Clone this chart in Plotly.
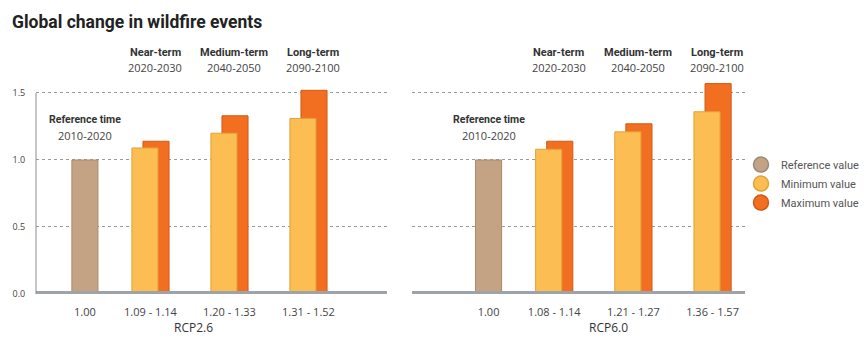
import plotly.graph_objects as go

# ---- data ----
periods = ["Near-term", "Medium-term", "Long-term"]
period_years = ["2020-2030", "2040-2050", "2090-2100"]
reference_label = "Reference time"
reference_years = "2010-2020"
scenarios = ["RCP2.6", "RCP6.0"]
reference_value = [1.00, 1.00]
min_values = {"RCP2.6": [1.09, 1.20, 1.31], "RCP6.0": [1.08, 1.21, 1.36]}
max_values = {"RCP2.6": [1.14, 1.33, 1.52], "RCP6.0": [1.14, 1.27, 1.57]}
y_ticks = [0.0, 0.5, 1.0, 1.5]
legend_names = ["Reference value", "Minimum value", "Maximum value"]

# ---- style / layout helpers ----
C_REF, C_MIN, C_MAX = "#c4a384", "#fcbe52", "#f26f21"
L_REF, L_MIN, L_MAX = "#a88a6c", "#e0a23a", "#cf5a14"
ref_pos = 0.17
group_pos = [1, 2, 3]
BW = 0.33
NARROW = "Roboto, sans-serif"
SANS = "Open Sans, Lato, sans-serif"

fig = go.Figure()

axes = [("x", "y"), ("x2", "y2")]
for i, sc in enumerate(scenarios):
    xa, ya = axes[i]
    fig.add_trace(go.Bar(x=group_pos, y=max_values[sc], width=BW, offset=-0.095,
                         marker=dict(color=C_MAX, line=dict(color=L_MAX, width=1)),
                         xaxis=xa, yaxis=ya, showlegend=False, hoverinfo="y"))
    fig.add_trace(go.Bar(x=group_pos, y=min_values[sc], width=BW, offset=-0.235,
                         marker=dict(color=C_MIN, line=dict(color=L_MIN, width=1)),
                         xaxis=xa, yaxis=ya, showlegend=False, hoverinfo="y"))
    fig.add_trace(go.Bar(x=[ref_pos], y=[reference_value[i]], width=BW, offset=-BW / 2,
                         marker=dict(color=C_REF, line=dict(color=L_REF, width=1)),
                         xaxis=xa, yaxis=ya, showlegend=False, hoverinfo="y"))

for name, c, lc in zip(legend_names, [C_REF, C_MIN, C_MAX], ["#9a8a7a", "#e0a23a", "#cf5a14"]):
    fig.add_trace(go.Scatter(x=[None], y=[None], mode="markers", name=name,
                             marker=dict(symbol="circle", size=15, color=c, line=dict(color=lc, width=1.5)),
                             xaxis="x", yaxis="y"))

def ticktext_for(sc):
    return [f"{reference_value[scenarios.index(sc)]:.2f}"] + [
        f"{a:.2f} - {b:.2f}" for a, b in zip(min_values[sc], max_values[sc])]

ydom = [0.1302, 0.7645]
yr = [0, 1.6]
grid = dict(showgrid=True, gridcolor="#9a9a9a", griddash="dot", gridwidth=1, automargin=False,
            zeroline=False, range=yr, domain=ydom, tickvals=y_ticks)
xtick = dict(ticks="outside", ticklen=8, tickcolor="rgba(0,0,0,0)", automargin=False,
             tickfont=dict(family=SANS, size=11, color="#444"), showgrid=False, zeroline=False,
             tickvals=[ref_pos] + group_pos)

fig.update_layout(
    width=867, height=338, margin=dict(l=0, r=0, t=0, b=0),
    paper_bgcolor="white", plot_bgcolor="white", barmode="overlay",
    xaxis=dict(domain=[36 / 867, 387 / 867], range=[-0.449, 3.994],
               ticktext=ticktext_for("RCP2.6"), **xtick),
    xaxis2=dict(domain=[412 / 867, 745 / 867], range=[-0.797, 3.41],
                ticktext=ticktext_for("RCP6.0"), anchor="y2", **xtick),
    yaxis=dict(**grid, tickformat=".1f", ticks="outside", ticklen=8, tickcolor="rgba(0,0,0,0)",
               tickfont=dict(family=SANS, size=9, color="#444")),
    yaxis2=dict(**grid, showticklabels=False, anchor="x2"),
    showlegend=True,
    legend=dict(x=741 / 867, y=0.556, xanchor="left", yanchor="top",
                font=dict(family=NARROW, size=11, color="#555"),
                bgcolor="rgba(0,0,0,0)", itemwidth=30, tracegroupgap=0),
)

shapes = []
for xa in ["x", "x2"]:
    ya = "y" if xa == "x" else "y2"
    shapes.append(dict(type="line", xref=f"{xa} domain", x0=0, x1=1, yref=ya, y0=0, y1=0,
                       line=dict(color="#9ea3a8", width=6), layer="above"))
shapes.append(dict(type="line", xref="x domain", x0=0, x1=0, yref="y", y0=0, y1=1.5,
                   line=dict(color="#8c8c8c", width=1)))
fig.update_layout(shapes=shapes)

ann = []
ann.append(dict(text="<b>Global change in wildfire events</b>", xref="paper", yref="paper",
                x=10 / 867, y=0.935, xanchor="left", yanchor="middle", showarrow=False,
                font=dict(family=NARROW, size=17.5, color="#222")))
for i, sc in enumerate(scenarios):
    xa = axes[i][0]
    for p, per, yrs in zip(group_pos, periods, period_years):
        ann.append(dict(text=f"<b>{per}</b>", xref=xa, yref="paper", x=p + 0.06, y=0.846,
                        yanchor="middle", showarrow=False,
                        font=dict(family=NARROW, size=11, color="#333")))
        ann.append(dict(text=yrs, xref=xa, yref="paper", x=p + 0.06, y=0.800,
                        yanchor="middle", showarrow=False,
                        font=dict(family=SANS, size=11, color="#444")))
    ann.append(dict(text=f"<b>{reference_label}</b>", xref=xa, yref="paper", x=ref_pos, y=0.645,
                    yanchor="middle", showarrow=False,
                    font=dict(family=NARROW, size=10.5, color="#333")))
    ann.append(dict(text=reference_years, xref=xa, yref="paper", x=ref_pos, y=0.600,
                    yanchor="middle", showarrow=False,
                    font=dict(family=SANS, size=11, color="#444")))
    ann.append(dict(text=sc, xref=f"{xa} domain", yref="paper",
                    x=(193 - 36) / 351 if i == 0 else (608 - 412) / 333, y=0.032,
                    yanchor="middle", showarrow=False,
                    font=dict(family=SANS, size=12, color="#333")))
fig.update_layout(annotations=ann)

fig.write_html("out.html")
